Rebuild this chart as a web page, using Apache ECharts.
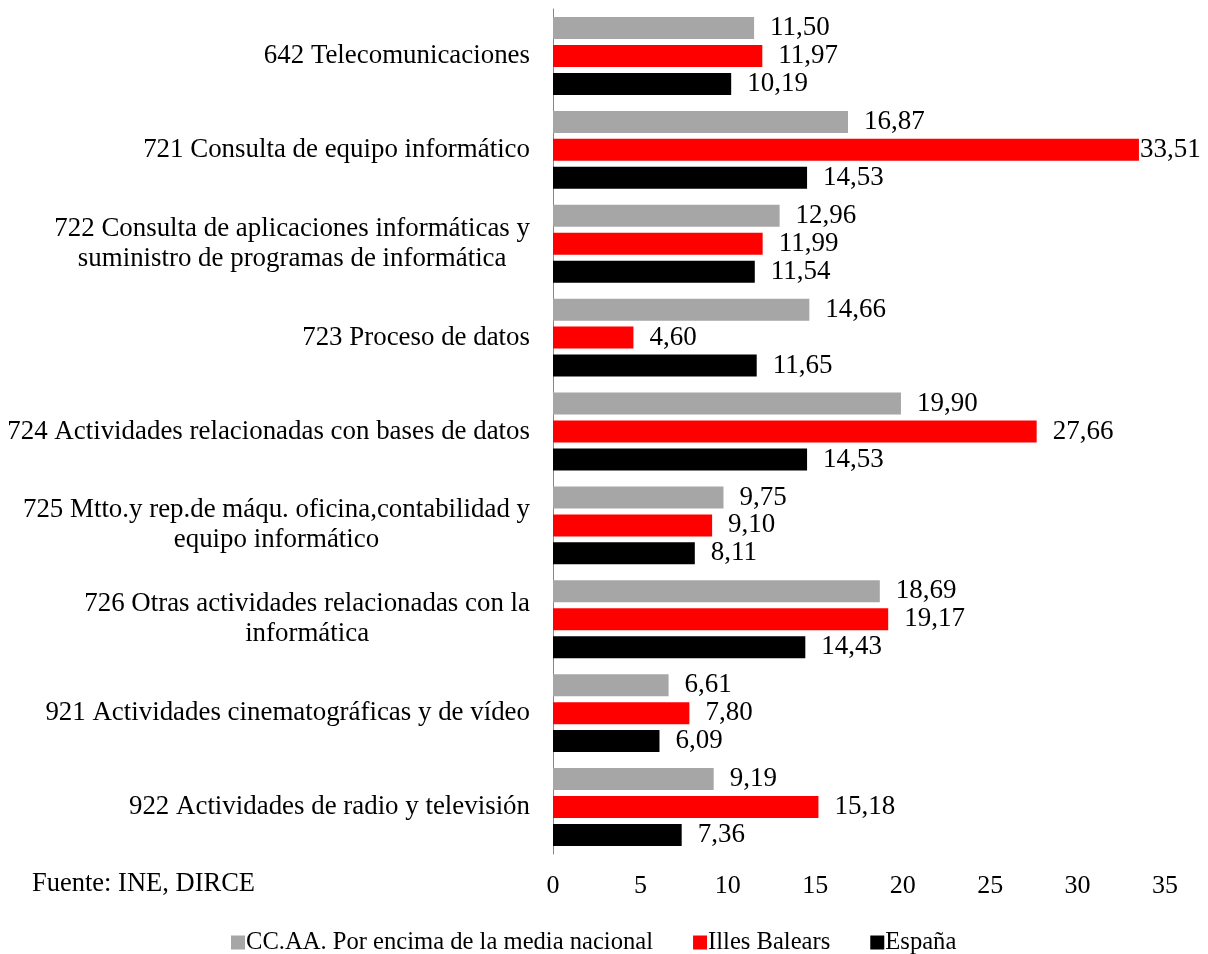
<!DOCTYPE html>
<html>
<head>
<meta charset="utf-8">
<script src="https://cdn.jsdelivr.net/npm/echarts@6/dist/echarts.min.js"></script>
<style>html,body{margin:0;padding:0;background:#fff}#c{width:1208px;height:954px}</style>
</head>
<body>
<div id="c"></div>
<script>
const categories = [
  "642 Telecomunicaciones",
  "721 Consulta de equipo informático",
  "722 Consulta de aplicaciones informáticas y\nsuministro de programas de informática",
  "723 Proceso de datos",
  "724 Actividades relacionadas con bases de datos",
  "725 Mtto.y rep.de máqu. oficina,contabilidad y\nequipo informático",
  "726 Otras actividades relacionadas con la\ninformática",
  "921 Actividades cinematográficas y de vídeo",
  "922 Actividades de radio y televisión"
];
const seriesNames = ["CC.AA. Por encima de la media nacional", "Illes Balears", "España"];
const ccaa = [11.50, 16.87, 12.96, 14.66, 19.90, 9.75, 18.69, 6.61, 9.19];
const baleares = [11.97, 33.51, 11.99, 4.60, 27.66, 9.10, 19.17, 7.80, 15.18];
const espana = [10.19, 14.53, 11.54, 11.65, 14.53, 8.11, 14.43, 6.09, 7.36];
const xTicks = [0, 5, 10, 15, 20, 25, 30, 35];
const colors = ["#A6A6A6", "#FF0000", "#000000"];

const FONT = "'Liberation Serif', 'Times New Roman', serif";
const FS_CAT = 26.9;
const FS_VAL = 27;
const FS_TICK = 26;
const FS_LEG = 24.6;
const X_MAX = xTicks[xTicks.length - 1];

const chart = echarts.init(document.getElementById('c'), null, {renderer: 'canvas'});
function mkSeries(name, data, color) {
  return {
    name: name,
    type: 'bar',
    // labels of bars that reach the right edge are pulled against the bar end (as in the source)
    data: data.map(v => v > X_MAX - 3 ? {value: v, label: {distance: 1}} : v),
    barWidth: 22,
    barGap: '27%',
    itemStyle: {color: color},
    label: {
      show: true,
      position: 'right',
      distance: 16,
      color: '#000',
      fontFamily: FONT,
      fontSize: FS_VAL,
      formatter: p => p.value.toFixed(2).replace('.', ',')
    }
  };
}
chart.setOption({
  animation: false,
  backgroundColor: '#fff',
  grid: {left: 553, right: 43, top: 9, bottom: 100, containLabel: false},
  xAxis: {
    type: 'value',
    min: xTicks[0],
    max: X_MAX,
    interval: 5,
    axisLine: {show: false},
    axisTick: {show: false},
    splitLine: {show: false},
    axisLabel: {color: '#000', fontFamily: FONT, fontSize: FS_TICK, margin: 19}
  },
  yAxis: {
    type: 'category',
    inverse: true,
    data: categories,
    axisLine: {show: true, lineStyle: {color: '#868686', width: 1}},
    axisTick: {show: false},
    axisLabel: {
      color: '#000',
      fontFamily: FONT,
      fontSize: FS_CAT,
      margin: 23,
      align: 'right',
      lineHeight: 30,
      formatter: v => v.split('\n').map(s => '{c|' + s + '}').join('\n'),
      rich: {c: {align: 'center', color: '#000', fontFamily: FONT, fontSize: FS_CAT, lineHeight: 30}}
    }
  },
  legend: {
    data: seriesNames,
    left: 226,
    top: 925,
    icon: 'rect',
    itemWidth: 14,
    itemHeight: 14,
    itemGap: 40,
    textStyle: {color: '#000', fontFamily: FONT, fontSize: FS_LEG, padding: [0, 0, 0, -4]}
  },
  graphic: [{
    type: 'text',
    left: 32,
    top: 871,
    style: {text: 'Fuente: INE, DIRCE', fill: '#000', font: '26.5px ' + FONT}
  }],
  series: [
    mkSeries(seriesNames[0], ccaa, colors[0]),
    mkSeries(seriesNames[1], baleares, colors[1]),
    mkSeries(seriesNames[2], espana, colors[2])
  ]
});
</script>
</body>
</html>
